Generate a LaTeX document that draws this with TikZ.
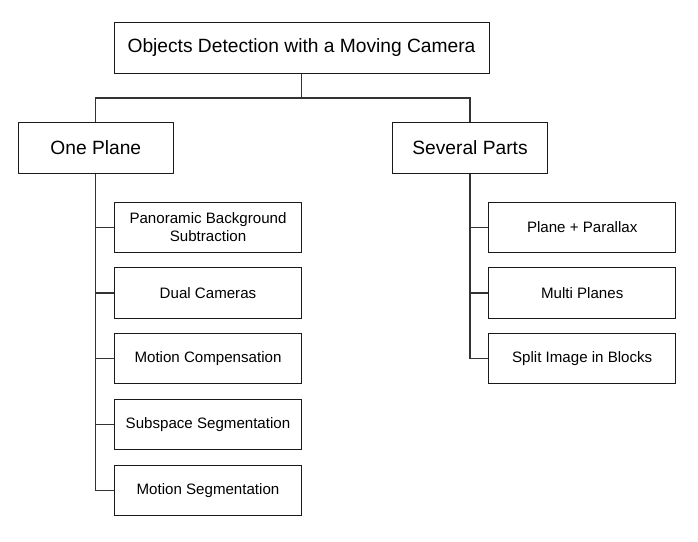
\documentclass[tikz,border=0pt]{standalone}
\usepackage{fontspec}
\setmainfont{Liberation Sans}
\usepackage{tikz}
\usetikzlibrary{calc}
\definecolor{boxline}{HTML}{1A1A1A}
\definecolor{connline}{HTML}{333333}

\tikzset{
  topbox/.style={draw=boxline, line width=1pt, fill=white, minimum height=51pt,
    inner sep=0pt, align=center, font=\fontsize{19.2}{23}\selectfont},
  leafbox/.style={draw=boxline, line width=1pt, fill=white, minimum width=187.5pt,
    minimum height=50.5pt, inner sep=0pt, align=center,
    font=\fontsize{15.1}{18.5}\selectfont},
  conn/.style={draw=connline, line width=1.1pt}
}

\begin{document}
\begin{tikzpicture}[x=1pt, y=-1pt]
  \useasboundingbox (0,0) rectangle (698,541);

  % Radice
  \node[topbox, minimum width=375pt] (root) at (301.5,47.5)
    {Objects Detection with a Moving Camera};

  % Due rami principali
  \node[topbox, minimum width=155pt] (onep) at (95.8,147.7) {One Plane};
  \node[topbox, minimum width=155pt] (sevp) at (470,147.7) {Several Parts};

  % Foglie ramo sinistro
  \node[leafbox] (pano) at (208,227.3) {Panoramic Background\\Subtraction};
  \node[leafbox] (dual) at (208,293)   {Dual Cameras};
  \node[leafbox] (mcomp) at (208,358.7) {Motion Compensation};
  \node[leafbox] (subsp) at (208,424.7) {Subspace Segmentation};
  \node[leafbox] (mseg) at (208,490.7) {Motion Segmentation};

  % Foglie ramo destro
  \node[leafbox] (parallax) at (582.2,227.3) {Plane + Parallax};
  \node[leafbox] (multi)    at (582.2,293)   {Multi Planes};
  \node[leafbox] (blocks)   at (582.2,358.7) {Split Image in Blocks};

  % Collegamenti radice -> rami
  \coordinate (rootjoin) at ($(root.south)+(0,24.5)$);
  \draw[conn] (root.south) -- (rootjoin) -| (onep.north);
  \draw[conn] (rootjoin) -| (sevp.north);

  % Collegamenti rami -> foglie
  \foreach \leaf in {pano,dual,mcomp,subsp,mseg}
    \draw[conn] (onep.south) |- (\leaf.west);
  \foreach \leaf in {parallax,multi,blocks}
    \draw[conn] (sevp.south) |- (\leaf.west);
\end{tikzpicture}
\end{document}
